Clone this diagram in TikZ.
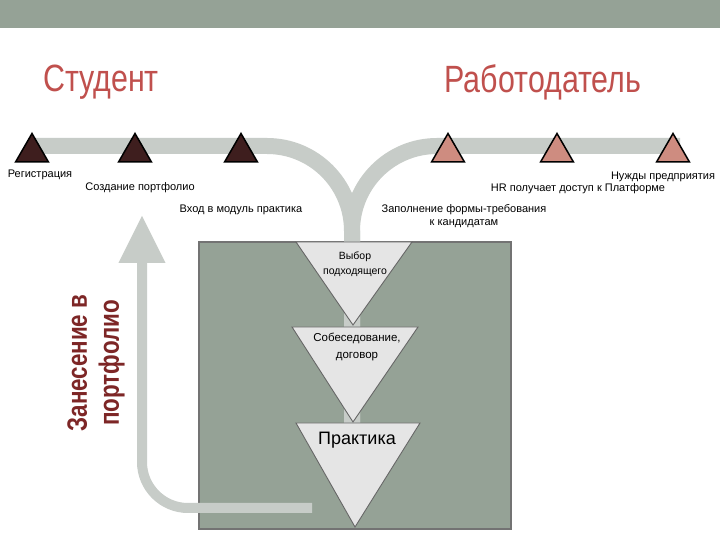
\documentclass[tikz,border=0pt]{standalone}
\usepackage{fontspec}
\setmainfont{Liberation Sans}
\newfontfamily\narrowfont[FakeStretch=0.8]{Liberation Sans}
\usetikzlibrary{shapes,arrows.meta,positioning,calc}

\definecolor{bandgreen}{RGB}{149,162,150}
\definecolor{roadgray}{RGB}{199,204,200}
\definecolor{titlered}{RGB}{192,80,77}
\definecolor{darkred}{RGB}{125,38,38}
\definecolor{studfill}{RGB}{62,30,30}
\definecolor{empfill}{RGB}{206,140,128}
\definecolor{funnelfill}{RGB}{229,229,229}

\begin{document}
\begin{tikzpicture}[x=1pt, y=1pt, every node/.style={font=\fontsize{11}{13}\selectfont, inner sep=0pt},
	milestone/.style={regular polygon, regular polygon sides=3, minimum size=38pt, draw=black, line width=1.5pt},
	road/.style={draw=roadgray, line width=16pt, rounded corners=85pt},
	funnel/.style={fill=funnelfill, draw=black!60, line width=0.9pt},
	title/.style={font=\narrowfont\fontsize{38}{44}\selectfont, text=titlered}]
				\useasboundingbox[fill=white] (0,0) rectangle (720,540);
				\fill[bandgreen] (0,512) rectangle (720,540);
				
				\node[title] (stud) at (101,458) {Студент};
				\node[title] (empl) at (543,458) {Работодатель};
				
				% box with the selection stages
				\draw[fill=bandgreen, draw=black!55, line width=1.5pt] (199,11) rectangle (511,298);
				
				\draw[road] (33,394) -| (352,80);
				\draw[road] (680,394) -| (352,80);
				\draw[draw=roadgray, line width=10pt, rounded corners=46pt, -{Triangle[width=44pt,length=48pt]}] (312,32) -| (142,325);
				
				\coordinate (t1) at (353,215);
				\coordinate (t2) at (353,118);
				\coordinate (t3) at (355,13);
				\draw[funnel] (296,298) -- (412,298) -- (t1) -- cycle;
				\draw[funnel] (292,213) -- (418,213) -- (t2) -- cycle;
				\draw[funnel] (296,117) -- (420,117) -- (t3) -- cycle;
				\node[align=center, font=\fontsize{10.5}{15}\selectfont] (vybor) at (355,276) {Выбор\\подходящего};
				\node[align=center, font=\fontsize{11.5}{17}\selectfont] (sobes) at (357,193) {Собеседование,\\договор};
				\node[font=\fontsize{18}{20}\selectfont] (prakt) at (357,100) {Практика};
				
				\node[milestone, fill=studfill] (reg) at (32,387.5) {};
				\node[milestone, fill=studfill] (port) at (135,387.5) {};
				\node[milestone, fill=studfill] (vhod) at (241,387.5) {};
				\node[milestone, fill=empfill] (form) at (448,387.5) {};
				\node[milestone, fill=empfill] (hr) at (557,387.5) {};
				\node[milestone, fill=empfill] (need) at (673,387.5) {};
				
				\node (regtxt) at (40,365) {Регистрация};
				\node (porttxt) at (140,352) {Создание портфолио};
				\node (vhodtxt) at (241,330) {Вход в модуль практика};
				\node (needtxt) at (663,363) {Нужды предприятия};
				\node (hrtxt) at (578,351) {HR получает доступ к Платформе};
				\node[align=center, font=\fontsize{11}{13}\selectfont] (formtxt) at (464,324) {Заполнение формы-требования\\к кандидатам};
				
				\node[rotate=90, align=center, text=darkred, font=\narrowfont\bfseries\fontsize{28}{32}\selectfont] (zanes) at (96,177) {Занесение в\\портфолио};
			\end{tikzpicture}
\end{document}
